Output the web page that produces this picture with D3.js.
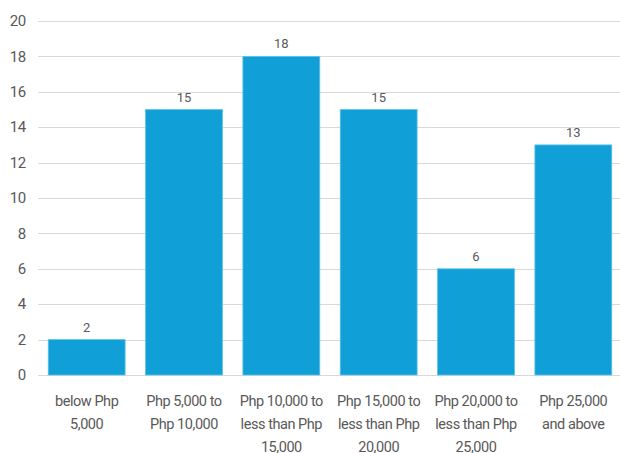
<html>
<head>
    <meta charset="utf-8">
    <style>
        body { margin: 0; background: #fff; }
        text { font-family: "Roboto", "Liberation Sans", sans-serif; fill: #595959; }
        .grid line { stroke: #d9d9d9; stroke-width: 1; }
    </style>
</head>
<body>
    <script src="https://cdn.jsdelivr.net/npm/d3@7"></script>
    <script>
        var categories = [
            ["below Php", "5,000"],
            ["Php 5,000 to", "Php 10,000"],
            ["Php 10,000 to", "less than Php", "15,000"],
            ["Php 15,000 to", "less than Php", "20,000"],
            ["Php 20,000 to", "less than Php", "25,000"],
            ["Php 25,000", "and above"]
        ];
        var values = [2, 15, 18, 15, 6, 13];
        var yTicks = [0, 2, 4, 6, 8, 10, 12, 14, 16, 18, 20];

        var width = 620, height = 453;
        var margin = {left: 38, right: -2, top: 21, bottom: 78};

        var svg = d3.select("body").append("svg")
            .attr("width", width)
            .attr("height", height);

        var x = d3.scaleBand()
            .domain(d3.range(categories.length))
            .range([margin.left, width - margin.right])
            .paddingInner(0.21)
            .paddingOuter(0.105);

        var y = d3.scaleLinear()
            .domain([0, 20])
            .range([height - margin.bottom, margin.top]);

        // gridlines
        svg.append("g").attr("class", "grid")
            .selectAll("line")
            .data(yTicks)
            .enter().append("line")
            .attr("x1", margin.left)
            .attr("x2", width)
            .attr("y1", function(d) { return Math.round(y(d)) + 0.5; })
            .attr("y2", function(d) { return Math.round(y(d)) + 0.5; });

        // y axis labels
        svg.append("g")
            .selectAll("text")
            .data(yTicks)
            .enter().append("text")
            .attr("x", 26)
            .attr("y", function(d) { return y(d); })
            .attr("dy", "0.35em")
            .attr("text-anchor", "end")
            .style("font-size", "15px")
            .style("letter-spacing", "-0.3px")
            .text(function(d) { return d; });

        // bars
        svg.append("g")
            .selectAll("rect")
            .data(values)
            .enter().append("rect")
            .attr("x", function(d, i) { return x(i); })
            .attr("width", x.bandwidth())
            .attr("y", function(d) { return y(d); })
            .attr("height", function(d) { return y(0) - y(d); })
            .attr("fill", "#119fd7")
            .attr("stroke", "#5ec3ea")
            .attr("stroke-width", 0.8);

        // value labels
        svg.append("g")
            .selectAll("text")
            .data(values)
            .enter().append("text")
            .attr("x", function(d, i) { return x(i) + x.bandwidth() / 2; })
            .attr("y", function(d) { return y(d) - 8; })
            .attr("text-anchor", "middle")
            .style("font-size", "13px")
            .text(function(d) { return d; });

        // category labels
        var cat = svg.append("g")
            .selectAll("text")
            .data(categories)
            .enter().append("text")
            .attr("text-anchor", "middle")
            .style("font-size", "14.5px")
            .style("letter-spacing", "-0.45px")
            .attr("transform", function(d, i) {
                return "translate(" + (x(i) + x.bandwidth() / 2) + "," + (y(0) + 31) + ")";
            });

        cat.selectAll("tspan")
            .data(function(d) { return d; })
            .enter().append("tspan")
            .attr("x", 0)
            .attr("y", function(d, j) { return j * 23; })
            .text(function(d) { return d; });
    </script>
</body>
</html>
